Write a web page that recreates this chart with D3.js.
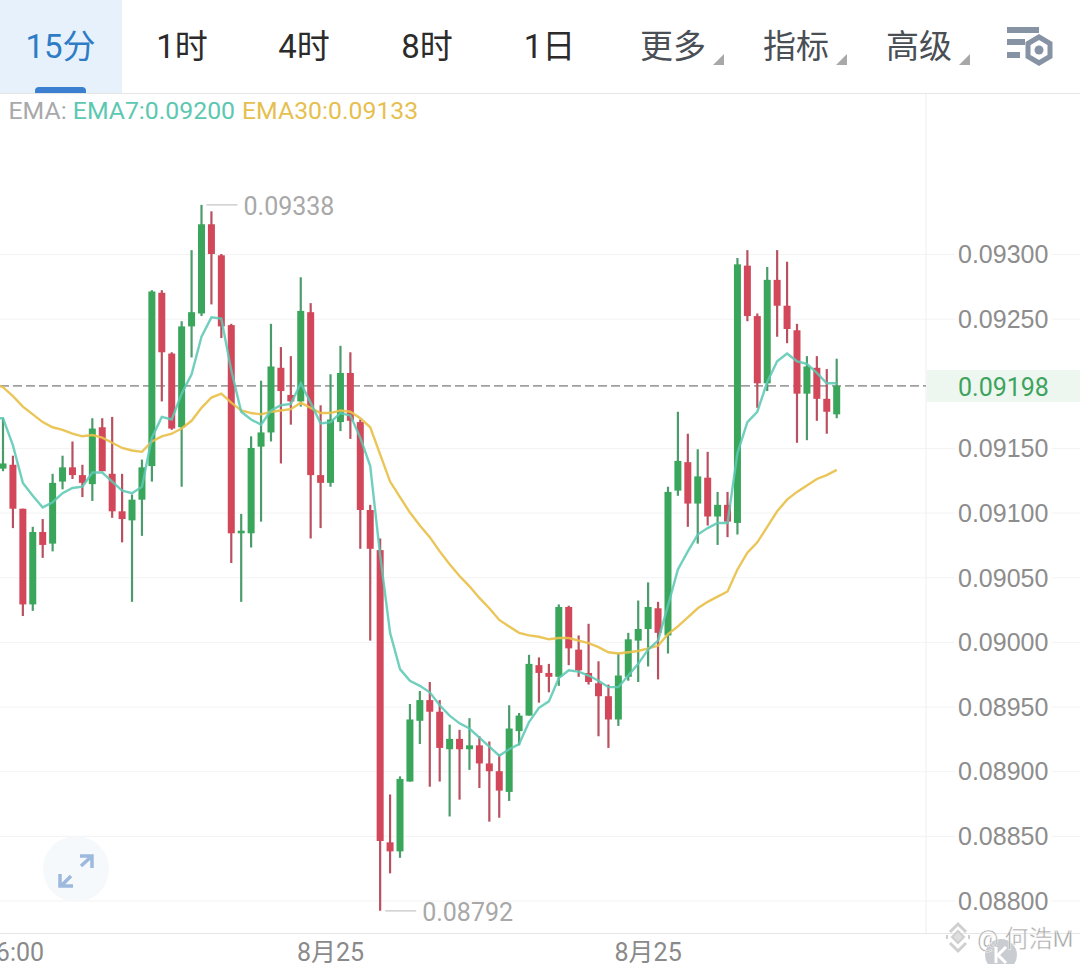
<!DOCTYPE html>
<html lang="zh">
<head>
<meta charset="UTF-8">
<title>K线图</title>
<style>
  html, body { margin: 0; padding: 0; background: #fff; overflow: hidden; }
  svg { display: block; font-family: Roboto, "Noto Sans CJK SC", sans-serif; }
  .gridlines line { stroke: #f3f3f3; }
  .gridlines path { display: none; }
  .gridlines text { font-size: 25px; fill: #8d8d8d; paint-order: stroke; stroke: #fff; stroke-width: 8px; }
</style>
<script src="https://d3js.org/d3.v7.min.js"></script>
</head>
<body>
<svg id="chart" width="1080" height="964"></svg>
<script>
const opens = [
  0.09134,0.09137,0.09103,0.09029,0.09085,0.09076,0.09124,0.09135,0.09129,0.09122,
  0.09166,0.09130,0.09101,0.09094,0.09110,0.09136,0.09270,0.09223,0.09166,0.09244,
  0.09254,0.09323,0.09299,0.09245,0.09084,0.09084,0.09151,0.09162,0.09212,0.09191,
  0.09186,0.09255,0.09129,0.09123,0.09170,0.09208,0.09170,0.09102,0.09071,0.08845,
  0.08838,0.08892,0.08939,0.08955,0.08946,0.08917,0.08925,0.08917,0.08920,0.08906,
  0.08900,0.08884,0.08931,0.08943,0.08982,0.08976,0.08973,0.09027,0.08994,0.08976,
  0.08968,0.08958,0.08940,0.08973,0.09001,0.09010,0.09026,0.09005,0.09117,0.09139,
  0.09107,0.09127,0.09097,0.09106,0.09092,0.09291,0.09252,0.09200,0.09280,0.09260,
  0.09241,0.09192,0.09212,0.09188,0.09176];
const closes = [
  0.09138,0.09103,0.09029,0.09085,0.09075,0.09123,0.09135,0.09129,0.09123,0.09165,
  0.09132,0.09101,0.09095,0.09110,0.09135,0.09271,0.09224,0.09165,0.09244,0.09255,
  0.09323,0.09300,0.09244,0.09084,0.09086,0.09150,0.09162,0.09213,0.09194,0.09186,
  0.09256,0.09129,0.09123,0.09172,0.09208,0.09171,0.09102,0.09072,0.08846,0.08838,
  0.08894,0.08940,0.08955,0.08946,0.08918,0.08925,0.08917,0.08920,0.08906,0.08900,
  0.08885,0.08933,0.08943,0.08983,0.08976,0.08973,0.09027,0.08995,0.08978,0.08969,
  0.08958,0.08940,0.08974,0.09002,0.09010,0.09027,0.09007,0.09116,0.09140,0.09107,
  0.09128,0.09097,0.09106,0.09093,0.09292,0.09252,0.09200,0.09280,0.09260,0.09242,
  0.09192,0.09213,0.09188,0.09178,0.09198];
const highs = [
  0.09173,0.09144,0.09103,0.09089,0.09095,0.09130,0.09144,0.09155,0.09137,0.09173,
  0.09173,0.09174,0.09130,0.09114,0.09141,0.09272,0.09272,0.09224,0.09248,0.09303,
  0.09338,0.09333,0.09300,0.09246,0.09099,0.09159,0.09202,0.09246,0.09228,0.09221,
  0.09282,0.09262,0.09183,0.09207,0.09229,0.09224,0.09172,0.09106,0.09080,0.08882,
  0.08896,0.08952,0.08962,0.08969,0.08955,0.08936,0.08932,0.08941,0.08927,0.08923,
  0.08913,0.08951,0.08945,0.08990,0.08988,0.08983,0.09029,0.09028,0.09005,0.09014,
  0.08985,0.08967,0.08991,0.09007,0.09032,0.09046,0.09031,0.09120,0.09178,0.09161,
  0.09149,0.09147,0.09116,0.09116,0.09297,0.09303,0.09254,0.09290,0.09303,0.09294,
  0.09246,0.09221,0.09221,0.09211,0.09219];
const lows = [
  0.09132,0.09088,0.09020,0.09024,0.09065,0.09070,0.09118,0.09126,0.09112,0.09109,
  0.09132,0.09096,0.09077,0.09031,0.09082,0.09124,0.09186,0.09164,0.09120,0.09220,
  0.09252,0.09261,0.09235,0.09061,0.09031,0.09073,0.09093,0.09155,0.09138,0.09168,
  0.09182,0.09080,0.09088,0.09120,0.09163,0.09157,0.09072,0.09001,0.08792,0.08821,
  0.08833,0.08892,0.08921,0.08888,0.08892,0.08865,0.08878,0.08901,0.08887,0.08861,
  0.08864,0.08877,0.08920,0.08943,0.08953,0.08961,0.08966,0.08982,0.08973,0.08967,
  0.08927,0.08918,0.08935,0.08970,0.08969,0.08981,0.08971,0.08991,0.09113,0.09089,
  0.09076,0.09090,0.09075,0.09081,0.09083,0.09248,0.09181,0.09194,0.09236,0.09231,
  0.09154,0.09156,0.09171,0.09161,0.09173];
// the EMA lists start one candle earlier, off the left edge
const ema7 = [
  0.09173,
  0.09173,0.09152,0.09123,0.09113,0.09104,0.09108,0.09115,0.09119,0.09120,0.09131,
  0.09131,0.09124,0.09117,0.09115,0.09120,0.09158,0.09174,0.09172,0.09192,0.09207,
  0.09236,0.09251,0.09250,0.09210,0.09178,0.09172,0.09168,0.09179,0.09183,0.09184,
  0.09200,0.09185,0.09169,0.09170,0.09177,0.09175,0.09158,0.09136,0.09067,0.09007,
  0.08979,0.08970,0.08966,0.08961,0.08951,0.08943,0.08937,0.08933,0.08926,0.08919,
  0.08912,0.08917,0.08921,0.08938,0.08949,0.08954,0.08972,0.08978,0.08977,0.08974,
  0.08970,0.08965,0.08965,0.08974,0.08983,0.08994,0.09001,0.09028,0.09056,0.09070,
  0.09083,0.09088,0.09092,0.09092,0.09146,0.09170,0.09178,0.09201,0.09217,0.09223,
  0.09217,0.09215,0.09208,0.09200,0.09200];
const ema30 = [
  0.09200,
  0.09197,0.09190,0.09182,0.09176,0.09170,0.09166,0.09164,0.09161,0.09159,0.09160,
  0.09158,0.09154,0.09150,0.09148,0.09147,0.09155,0.09159,0.09161,0.09165,0.09171,
  0.09181,0.09189,0.09192,0.09185,0.09179,0.09177,0.09176,0.09178,0.09179,0.09180,
  0.09185,0.09181,0.09177,0.09177,0.09179,0.09178,0.09173,0.09166,0.09145,0.09124,
  0.09112,0.09100,0.09090,0.09081,0.09070,0.09060,0.09051,0.09043,0.09034,0.09026,
  0.09017,0.09012,0.09007,0.09005,0.09004,0.09002,0.09003,0.09003,0.09001,0.08999,
  0.08996,0.08992,0.08991,0.08992,0.08993,0.08995,0.08997,0.09006,0.09012,0.09019,
  0.09026,0.09031,0.09035,0.09039,0.09056,0.09069,0.09077,0.09089,0.09101,0.09110,
  0.09116,0.09121,0.09126,0.09129,0.09133];

const priceTicks = [0.088,0.0885,0.089,0.0895,0.09,0.0905,0.091,0.0915,0.0925,0.093];
const timeIndex = [1, 33, 65];
const timeLabels = ["16:00", "8月25", "8月25"];
const lastPrice = 0.09198;
const tabs = ["15分", "1时", "4时", "8时", "1日"];
const menus = ["更多", "指标", "高级"];

const GREEN = "#3aa65c", RED = "#d2485a";
const WICK_GREEN = "#4b9c6b", WICK_RED = "#b9505f";

const svg = d3.select("svg#chart");
const chartRight = 926;

const xScale = d3.scaleLinear().domain([0, 84]).range([3, 836.7]);
const yScale = d3.scaleLinear().domain([0.088, 0.093]).range([900.5, 254]);

// gridlines + price labels
const yAxis = d3.axisRight(yScale)
  .tickValues(priceTicks)
  .tickSize(1080)
  .tickFormat(d3.format(".5f"));
const grid = svg.append("g").attr("class", "gridlines").call(yAxis);
grid.selectAll("text").attr("x", 958).attr("dy", "0.35em");

// frame
svg.append("rect").attr("x", 927).attr("y", yScale(lastPrice) - 16)
  .attr("width", 153).attr("height", 32).attr("fill", "#edf7f0");
svg.append("text").attr("x", 958).attr("y", yScale(lastPrice) + 1).attr("dy", "0.35em")
  .attr("font-size", 25).attr("fill", "#3da35d").text(d3.format(".5f")(lastPrice));
svg.append("line").attr("x1", chartRight).attr("x2", chartRight).attr("y1", 93).attr("y2", 933).attr("stroke", "#eeeeee");
svg.append("line").attr("x1", 0).attr("x2", 1080).attr("y1", 933.5).attr("y2", 933.5).attr("stroke", "#e6e6e6");
svg.append("line").attr("x1", 0).attr("x2", chartRight)
  .attr("y1", yScale(lastPrice)).attr("y2", yScale(lastPrice))
  .attr("stroke", "#a0a0a0").attr("stroke-width", 1.6).attr("stroke-dasharray", "9,4");

// candles
const candles = d3.range(opens.length);
const isUp = i => closes[i] >= opens[i];
const chart = svg.append("g");
chart.selectAll("line.wick").data(candles).join("line")
  .attr("class", "wick")
  .attr("x1", xScale).attr("x2", xScale)
  .attr("y1", i => yScale(highs[i])).attr("y2", i => yScale(lows[i]))
  .attr("stroke", i => isUp(i) ? WICK_GREEN : WICK_RED).attr("stroke-width", 2.2);
chart.selectAll("rect.body").data(candles).join("rect")
  .attr("class", "body")
  .attr("x", i => xScale(i) - 3.5).attr("width", 7)
  .attr("y", i => yScale(Math.max(opens[i], closes[i])))
  .attr("height", i => Math.max(1.5, Math.abs(yScale(opens[i]) - yScale(closes[i]))))
  .attr("fill", i => isUp(i) ? GREEN : RED);

// EMA lines
const emaLine = d3.line().x((d, i) => xScale(i - 1)).y(d => yScale(d));
chart.append("path").datum(ema30).attr("d", emaLine)
  .attr("fill", "none").attr("stroke", "#e8c04a").attr("stroke-width", 2.4).attr("stroke-opacity", 0.92);
chart.append("path").datum(ema7).attr("d", emaLine)
  .attr("fill", "none").attr("stroke", "#5cc8b4").attr("stroke-width", 2.4).attr("stroke-opacity", 0.88);

// high / low markers
const hiIdx = highs.indexOf(d3.max(highs)), loIdx = lows.indexOf(d3.min(lows));
[[hiIdx, highs[hiIdx]], [loIdx, lows[loIdx]]].forEach(([i, v]) => {
  const px = xScale(i), py = yScale(v);
  svg.append("line").attr("x1", px + 5).attr("x2", px + 36).attr("y1", py).attr("y2", py).attr("stroke", "#cfcfcf").attr("stroke-width", 1.5);
  svg.append("text").attr("x", px + 42).attr("y", py + 1).attr("dy", "0.36em")
    .attr("font-size", 25).attr("fill", "#a8a8a8").text(d3.format(".5f")(v));
});

// time labels (first one runs off the left edge)
svg.selectAll("text.time").data(timeIndex).join("text")
  .attr("class", "time")
  .attr("x", xScale).attr("y", 961)
  .attr("text-anchor", "middle").attr("font-size", 25).attr("fill", "#8a8a8a")
  .text((d, i) => timeLabels[i]);

// top bar
svg.append("rect").attr("width", 122).attr("height", 93).attr("fill", "#e6f1fb");
svg.append("path").attr("d", "M35 93V91a4 4 0 0 1 4-4H82a4 4 0 0 1 4 4V93Z").attr("fill", "#3a7fd0");
svg.append("line").attr("x1", 0).attr("x2", 1080).attr("y1", 93.5).attr("y2", 93.5).attr("stroke", "#e6e6e6");
const tabX = [60.5, 182, 304, 427, 549.5];
tabs.forEach((t, i) => {
  svg.append("text").attr("x", tabX[i]).attr("y", 58).attr("text-anchor", "middle")
    .attr("font-size", 33).attr("fill", i === 0 ? "#2f7cc6" : "#2b2b2b").text(t);
});
const menuX = [673, 796, 919];
menus.forEach((t, i) => {
  svg.append("text").attr("x", menuX[i]).attr("y", 58).attr("text-anchor", "middle")
    .attr("font-size", 33).attr("fill", "#4a4f55").text(t);
  const r = menuX[i] + 51;
  svg.append("path").attr("d", `M${r} 54V65H${r - 11}Z`).attr("fill", "#a8a8a8");
});

// settings icon
const icon = svg.append("g").attr("fill", "#8593a5");
icon.append("rect").attr("x", 1007).attr("y", 27).attr("width", 32).attr("height", 6);
icon.append("rect").attr("x", 1007).attr("y", 39).attr("width", 18).attr("height", 6);
icon.append("rect").attr("x", 1007).attr("y", 52).attr("width", 13).attr("height", 6);
icon.append("path").attr("d", "M1039 37L1050 43.5V56.5L1039 63L1028 56.5V43.5Z")
  .attr("fill", "none").attr("stroke", "#8593a5").attr("stroke-width", 5);
icon.append("circle").attr("cx", 1039).attr("cy", 50).attr("r", 4.5);

// legend
const legend = svg.append("text").attr("x", 8.5).attr("y", 119).attr("font-size", 24.8);
legend.append("tspan").attr("fill", "#a9a9a9").text("EMA: ");
legend.append("tspan").attr("fill", "#5cc8b2").text("EMA7:" + d3.format(".5f")(ema7[ema7.length - 1]));
legend.append("tspan").attr("fill", "#e6bf4f").attr("dx", 7).text("EMA30:" + d3.format(".5f")(ema30[ema30.length - 1]));

// expand button
svg.append("circle").attr("cx", 76).attr("cy", 869).attr("r", 33).attr("fill", "#f5f9fc");
svg.append("path").attr("d", "M81 866L92 856M80 856H92V868M71 876L61 886M60 874V886H73")
  .attr("fill", "none").attr("stroke", "#9db9de").attr("stroke-width", 3.5);

// watermark
svg.append("circle").attr("cx", 1001).attr("cy", 955).attr("r", 16).attr("fill", "#c9cdd2");
svg.append("path").attr("d", "M996 947V963M1006 947L998 955L1006 963")
  .attr("fill", "none").attr("stroke", "#fff").attr("stroke-width", 3);
const mark = svg.append("g").attr("fill", "none").attr("stroke", "#cfcfcf").attr("stroke-width", 3);
mark.append("path").attr("d", "M950 932L958 924L966 932");
mark.append("path").attr("d", "M950 943L958 951L966 943");
mark.append("path").attr("d", "M958 931L964 937L958 943L952 937Z").attr("fill", "#dedede").attr("stroke-width", 2);
mark.append("path").attr("d", "M946 937H948M968 937H970").attr("stroke-width", 4);
svg.append("text").attr("x", 977).attr("y", 947).attr("font-size", 24)
  .attr("fill", "#a8a8a8").attr("stroke", "#fff").attr("stroke-width", 0.5).text("@ 何浩M");
</script>
</body>
</html>
